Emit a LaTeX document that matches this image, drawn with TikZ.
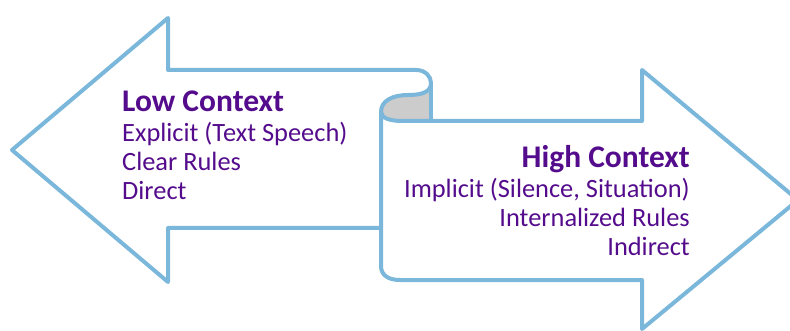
\documentclass[tikz,border=0pt]{standalone}
\usepackage{fontspec}
\setmainfont{Carlito}
\definecolor{arrowblue}{RGB}{122,183,218}
\definecolor{curlgray}{RGB}{204,204,204}
\definecolor{textpurple}{RGB}{84,12,140}
\tikzset{
  outline/.style={draw=arrowblue, line width=4pt, line join=round, line cap=round},
  heading/.style={inner sep=0pt, text=textpurple, font=\fontsize{31.5}{34}\selectfont\bfseries},
  item/.style={inner sep=0pt, text=textpurple, font=\fontsize{26.4}{29}\selectfont},
}
\begin{document}
\begin{tikzpicture}[x=1pt, y=-1pt]
  \useasboundingbox (0,0) rectangle (790,331);
  \begin{scope}
    \clip (0,0) rectangle (790,331);
    % shaded inside of the rolled join
    \fill[curlgray] (431,83) .. controls (431,92) and (422,95) .. (408,95)
      .. controls (392,95) and (381,101) .. (381,112)
      .. controls (381,118) and (390,121) .. (402,121) -- (431,121) -- cycle;
    % left-pointing arrow ending in the curl
    \draw[outline] (381,228) -- (168,228) -- (168,282) -- (12,150) -- (168,18) -- (168,70)
      -- (416,70) .. controls (425,70) and (431,76) .. (431,83)
      .. controls (431,92) and (422,95) .. (408,95)
      .. controls (392,95) and (381,101) .. (381,112);
    % right-pointing arrow
    \draw[outline] (381,112) -- (381,266) .. controls (381,275) and (388,280) .. (400,280)
      -- (642,280) -- (642,329) -- (798,200) -- (642,70) -- (642,121) -- (402,121)
      .. controls (390,121) and (381,118) .. (381,112);
    \draw[outline] (431,83) -- (431,121);
  \end{scope}
  % left block
  \node[heading, anchor=base west] (lowtitle) at (122,112) {Low Context};
  \node[item, anchor=base west] (low1) at (122,142) {Explicit (Text Speech)};
  \node[item, anchor=base west] (low2) at (122,171) {Clear Rules};
  \node[item, anchor=base west] (low3) at (122,200) {Direct};
  % right block
  \node[heading, anchor=base east] (hightitle) at (690,168) {High Context};
  \node[item, anchor=base east] (high1) at (690,198) {Implicit (Silence, Situation)};
  \node[item, anchor=base east] (high2) at (690,227) {Internalized Rules};
  \node[item, anchor=base east] (high3) at (690,256) {Indirect};
\end{tikzpicture}
\end{document}
